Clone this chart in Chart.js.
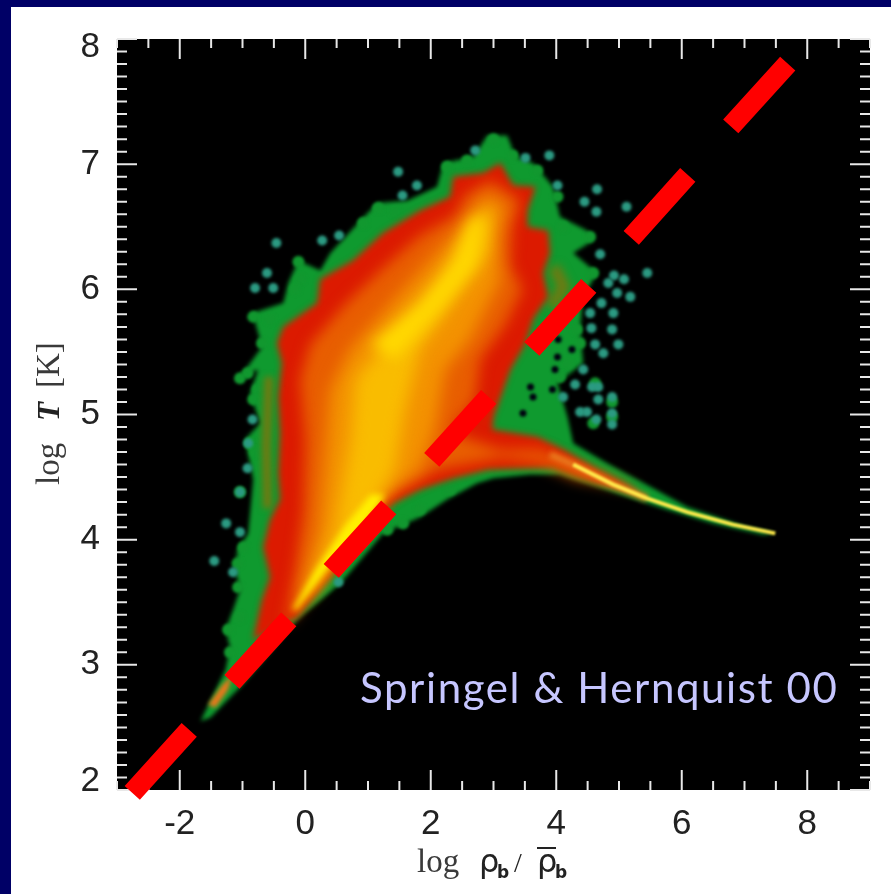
<!DOCTYPE html>
<html>
<head>
<meta charset="utf-8">
<title>log T vs log rho</title>
<script src="https://cdn.jsdelivr.net/npm/chart.js@4"></script>
<style>
    html, body { margin: 0; padding: 0; background: #000066; overflow: hidden; }
    canvas { display: block; }
</style>
</head>
<body>
<canvas id="phase" width="891" height="894"></canvas>
<script>
// tick labels
const xTickLabels = [-2, 0, 2, 4, 6, 8];
const yTickLabels = [2, 3, 4, 5, 6, 7, 8];

// density contours, [log rho, log T]
const greenEdge = [[-1.67,2.55],[-1.27,2.96],[-1.20,3.14],[-1.27,3.28],[-1.15,3.44],[-1.04,3.60],[-1.12,3.76],[-1.08,3.92],[-0.91,4.05],[-0.88,4.21],[-0.83,4.48],[-0.96,4.80],[-0.72,4.93],[-0.88,5.17],[-0.75,5.36],[-1.04,5.30],[-0.69,5.54],[-0.84,5.81],[-0.35,5.89],[-0.27,6.05],[-0.11,6.23],[0.24,6.15],[0.40,6.29],[0.88,6.55],[1.15,6.69],[1.63,6.71],[2.10,6.82],[2.20,7.01],[2.68,7.06],[2.90,7.23],[3.22,7.23],[3.35,7.06],[3.63,7.01],[3.95,6.82],[4.06,6.58],[4.49,6.47],[4.59,6.39],[4.27,6.29],[4.65,6.13],[4.43,5.94],[4.38,5.68],[4.43,5.41],[4.22,5.33],[4.02,5.25],[4.18,4.98],[4.27,4.77],[4.81,4.61],[5.29,4.48],[6.09,4.26],[7.04,4.10],[7.49,4.05],[7.30,4.04],[6.50,4.13],[5.77,4.24],[5.02,4.36],[4.54,4.44],[4.06,4.52],[3.59,4.52],[3.00,4.49],[2.74,4.45],[2.26,4.32],[1.83,4.18],[1.24,4.05],[0.56,3.65],[-0.13,3.36],[-1.04,2.82],[-1.51,2.58]];
const redEdge = [[-0.83,3.20],[-0.69,3.52],[-0.56,3.70],[-0.67,3.94],[-0.56,4.16],[-0.40,4.32],[-0.43,4.53],[-0.40,4.85],[-0.43,5.14],[-0.37,5.41],[-0.45,5.57],[-0.35,5.70],[0.19,5.89],[0.24,6.08],[0.76,6.23],[1.24,6.45],[1.83,6.63],[2.31,6.74],[2.36,6.90],[2.84,6.93],[3.11,7.01],[3.31,6.83],[3.67,6.82],[3.54,6.63],[3.54,6.50],[3.87,6.47],[3.90,6.29],[3.79,6.13],[3.87,5.94],[3.63,5.76],[3.51,5.57],[3.27,5.36],[3.00,4.98],[2.98,4.88],[3.70,4.82],[4.11,4.72],[4.65,4.56],[5.34,4.38],[4.65,4.45],[3.95,4.58],[3.43,4.57],[2.90,4.56],[2.36,4.49],[1.83,4.40],[1.40,4.29],[0.40,3.70],[-0.13,3.38]];
const orangeEdge = [[-0.32,3.32],[-0.16,3.76],[-0.03,4.24],[0.00,4.80],[-0.08,5.28],[0.08,5.56],[0.64,5.88],[1.20,6.15],[1.83,6.43],[2.39,6.59],[2.55,6.75],[2.95,6.87],[3.19,6.79],[3.43,6.71],[3.30,6.51],[3.27,6.19],[3.46,6.00],[3.19,5.72],[2.79,5.44],[2.71,5.12],[2.31,4.86],[3.11,4.72],[3.75,4.72],[4.30,4.60],[5.34,4.40],[4.30,4.49],[3.75,4.61],[3.11,4.65],[2.15,4.56],[1.51,4.40],[1.27,4.32],[0.40,3.76],[-0.13,3.42]];
const amberEdge = [[-0.08,3.48],[0.21,4.08],[0.32,4.72],[0.40,5.20],[0.72,5.52],[1.43,5.92],[1.99,6.23],[2.50,6.51],[2.87,6.75],[3.19,6.67],[3.03,6.39],[3.11,6.08],[2.63,5.60],[2.23,5.36],[2.07,4.88],[1.83,4.56],[1.27,4.36],[0.56,3.92]];
const goldEdge = [[0.00,3.52],[0.48,4.08],[0.72,4.80],[0.80,5.28],[1.51,5.72],[2.15,6.08],[2.63,6.51],[2.95,6.67],[2.95,6.31],[2.39,5.92],[1.83,5.52],[1.59,5.04],[1.43,4.56],[1.12,4.28],[0.56,3.96],[0.16,3.60]];
const yellowCore = [[1.04,5.56],[1.83,5.88],[2.39,6.23],[2.63,6.55],[2.87,6.59],[2.71,6.19],[2.15,5.84],[1.43,5.44]];
const yellowSpike = [[-0.13,3.44],[0.40,3.80],[0.96,4.12],[1.27,4.36],[1.04,4.36],[0.64,4.12],[0.16,3.76],[-0.21,3.44]];
const tailBlob = [[-1.55,2.68],[-1.32,2.84],[-1.16,2.92],[-1.23,2.80],[-1.43,2.66]];
const tailRidge = [[4.27,4.60],[4.91,4.44],[5.45,4.33],[6.09,4.22],[6.82,4.12],[7.49,4.05]];
const tailShoulder = [[3.90,4.68],[4.27,4.60],[4.91,4.44],[5.45,4.33]];
const oliveLeft = [[-0.60,4.25],[-0.62,4.75],[-0.58,5.30]];
const oliveRight = [[3.96,6.18],[4.12,6.02],[3.92,5.86]];

// outlying particles, clumps on the green edge and the gaps between them
const outliers = [[1.48,6.94],[1.78,6.83],[1.55,6.75],[-0.46,6.37],[-0.61,6.13],[-0.80,6.01],[-0.51,6.01],[0.27,6.39],[0.54,6.43],[2.71,7.11],[3.51,7.05],[3.89,7.07],[4.02,6.83],[4.65,6.80],[4.45,6.70],[4.64,6.62],[5.12,6.66],[4.70,6.28],[5.45,6.13],[4.92,6.11],[5.08,6.08],[4.83,6.05],[4.97,5.97],[5.18,5.94],[4.72,5.89],[4.54,5.81],[4.91,5.81],[4.56,5.69],[4.89,5.68],[4.62,5.56],[4.99,5.56],[4.75,5.49],[4.43,5.36],[4.30,5.24],[4.57,5.22],[4.67,5.22],[4.67,5.12],[4.11,5.14],[4.38,5.02],[4.49,5.02],[4.89,5.14],[4.89,5.01],[4.64,4.96],[4.89,4.92],[-0.84,4.96],[-0.91,4.77],[-0.92,4.57],[-1.04,4.38],[-1.26,4.13],[-1.04,4.06],[-1.45,3.83],[-1.15,3.74],[0.53,3.66]];
const greenClumps = [[-0.11,6.22],[-0.08,6.08],[-0.16,6.00],[-0.83,5.78],[-0.56,5.76],[-0.69,5.57],[-0.92,5.33],[-1.04,5.29],[-0.76,5.20],[-0.83,5.12],[-0.88,4.77],[-0.80,4.70],[-1.04,4.38],[0.92,6.53],[1.16,6.65],[1.43,6.62],[2.26,6.98],[2.58,7.03],[3.00,7.20],[3.31,7.07],[3.70,6.95],[4.02,6.74],[4.11,6.50],[4.54,6.42],[4.59,6.13],[4.33,5.68],[4.38,5.57],[4.18,5.41],[4.06,5.30],[4.89,5.10],[4.89,4.98],[4.62,5.25],[4.59,4.93],[1.56,4.13],[1.83,4.24],[1.31,4.08],[2.31,4.40],[-1.04,3.38],[-1.23,3.28],[-1.20,3.10],[-1.07,3.62],[-1.08,3.81],[-0.99,3.94]];
const holes = [[4.02,5.46],[3.98,5.36],[3.59,5.22],[3.63,5.14],[3.94,5.20],[3.47,5.01],[4.03,5.60],[4.25,5.52]];

// the dashed red line
const redLine = [[-2.757,1.978],[-1.849,2.481],[null,null],[-1.168,2.864],[-0.263,3.363],[null,null],[0.414,3.751],[1.331,4.258],[null,null],[2.016,4.637],[2.924,5.141],[null,null],[3.610,5.524],[4.518,6.027],[null,null],[5.195,6.411],[6.096,6.914],[null,null],[6.781,7.301],[7.689,7.804]];

const creditText = "Springel & Hernquist 00";

function xy(list) {
    return list.map(p => ({ x: p[0], y: p[1] }));
}

function contour(list, color, blur) {
    return {
        data: xy(list),
        showLine: true,
        fill: 'shape',
        backgroundColor: color,
        borderWidth: 0,
        pointRadius: 0,
        blur: blur
    };
}

function dots(list, color, radius, blur) {
    return {
        data: xy(list),
        showLine: false,
        backgroundColor: color,
        borderWidth: 0,
        pointRadius: radius,
        blur: blur
    };
}

function ridge(list, color, width, blur) {
    return {
        data: xy(list),
        showLine: true,
        fill: false,
        borderColor: color,
        borderWidth: width,
        pointRadius: 0,
        blur: blur
    };
}

// back to front
let datasets = [
    contour(greenEdge, '#0f9a2f', 2),
    dots(greenClumps, '#11982f', 6, 1.5),
    ridge(oliveLeft, '#6f7a12', 9, 3),
    ridge(oliveRight, '#6f7a12', 12, 4),
    contour(tailBlob, '#e8781c', 2),
    contour(redEdge, '#dc1a00', 3),
    contour(orangeEdge, '#e85e00', 7),
    contour(amberEdge, '#f39200', 8),
    contour(goldEdge, '#f9bc00', 8),
    contour(yellowCore, '#ffd800', 7),
    contour(yellowSpike, '#fff000', 3),
    dots(holes, '#000010', 3.5, 1.5),
    dots(outliers, '#2b9a82', 5, 1.5),
    ridge(tailShoulder, '#e8781c', 7, 2.5),
    ridge(tailRidge, '#ffe84a', 4, 1),
    {
        data: xy(redLine),
        showLine: true,
        spanGaps: false,
        fill: false,
        borderColor: '#ff0000',
        borderWidth: 20.5,
        borderCapStyle: 'butt',
        pointRadius: 0,
        clip: false,
        blur: 0
    }
];
datasets.forEach((d, i) => { d.order = datasets.length - i; });

function isWhole(v) {
    return Math.abs(v - Math.round(v)) < 1e-6;
}

// ticks point inward on all four sides, so they are drawn here from the scales
function drawInwardTicks(chart) {
    const ctx = chart.ctx;
    const area = chart.chartArea;
    const xs = chart.scales.x;
    const ys = chart.scales.y;
    ctx.save();
    ctx.strokeStyle = '#e8e8e8';
    ctx.lineWidth = 2;
    xs.ticks.forEach(t => {
        const px = xs.getPixelForValue(t.value);
        const len = xTickLabels.includes(Math.round(t.value)) && isWhole(t.value) ? 20 : 9;
        ctx.beginPath();
        ctx.moveTo(px, area.bottom); ctx.lineTo(px, area.bottom - len);
        ctx.moveTo(px, area.top); ctx.lineTo(px, area.top + len);
        ctx.stroke();
    });
    ys.ticks.forEach(t => {
        const py = ys.getPixelForValue(t.value);
        const len = isWhole(t.value) ? 20 : 10;
        ctx.beginPath();
        ctx.moveTo(area.left, py); ctx.lineTo(area.left + len, py);
        ctx.moveTo(area.right, py); ctx.lineTo(area.right - len, py);
        ctx.stroke();
    });
    ctx.restore();
}

function drawTitles(ctx) {
    ctx.save();
    ctx.fillStyle = '#3a3a3a';
    ctx.textAlign = 'left';
    ctx.textBaseline = 'alphabetic';

    // x title with subscripts and the bar over the second rho
    ctx.font = '33px "Liberation Serif"';
    ctx.fillText('log', 417, 872);
    ctx.font = '32px "DejaVu Sans"';
    ctx.fillStyle = '#222';
    ctx.fillText('ρ', 479, 872);
    ctx.fillText('ρ', 537, 872);
    ctx.font = 'bold 17px "DejaVu Sans"';
    ctx.fillText('b', 497, 878);
    ctx.fillText('b', 555, 878);
    ctx.font = '28px "Liberation Serif"';
    ctx.fillText('/', 514, 872);
    ctx.fillRect(537, 847, 19, 2);

    // y title
    ctx.save();
    ctx.translate(59, 485);
    ctx.rotate(-Math.PI / 2);
    ctx.fillStyle = '#3a3a3a';
    ctx.font = '33px "Liberation Serif"';
    ctx.fillText('log', 0, 0);
    ctx.fillStyle = '#222';
    ctx.font = 'italic bold 31px "Liberation Serif"';
    ctx.fillText('T', 64, 0);
    ctx.fillStyle = '#3a3a3a';
    ctx.font = '33px "Liberation Serif"';
    ctx.fillText('[K]', 97, 0);
    ctx.restore();

    ctx.restore();
}

const phasePlugin = {
    id: 'phasePlugin',
    beforeDraw(chart) {
        const ctx = chart.ctx;
        const area = chart.chartArea;
        ctx.save();
        ctx.fillStyle = '#ffffff';
        ctx.fillRect(11, 7, chart.width - 11, chart.height - 7);
        ctx.fillStyle = '#000000';
        ctx.fillRect(area.left, area.top, area.right - area.left, area.bottom - area.top);
        ctx.restore();

        // the end labels sit inside the axis range in the original
        chart.scales.y.getLabelItems().forEach(item => {
            if (item.label === '8') item.options.translation[1] += 8;
            if (item.label === '2') item.options.translation[1] -= 9;
        });
    },
    beforeDatasetsDraw(chart) {
        drawInwardTicks(chart);
        chart.ctx.filter = 'blur(' + chart.data.datasets[0].blur + 'px)';
    },
    beforeDatasetDraw(chart, args) {
        chart.ctx.filter = 'blur(' + chart.data.datasets[args.index].blur + 'px)';
    },
    afterDatasetDraw(chart, args) {
        // the filler plugin paints the next contour before our own hook runs
        const next = chart.data.datasets[args.index + 1];
        chart.ctx.filter = next ? 'blur(' + next.blur + 'px)' : 'none';
    },
    afterDatasetsDraw(chart) {
        chart.ctx.filter = 'none';
    },
    afterDraw(chart) {
        const ctx = chart.ctx;
        drawTitles(ctx);
        ctx.save();
        ctx.fillStyle = '#c6c6ff';
        ctx.font = '42px Lato';
        ctx.letterSpacing = '1.6px';
        ctx.textAlign = 'left';
        ctx.fillText(creditText, 360, 703);
        ctx.restore();
    }
};

new Chart(document.getElementById('phase'), {
    type: 'scatter',
    data: { datasets: datasets },
    plugins: [phasePlugin],
    options: {
        responsive: false,
        animation: false,
        layout: { padding: { left: 0, top: 39, right: 21, bottom: 0 } },
        plugins: { legend: { display: false }, tooltip: { enabled: false } },
        scales: {
            x: {
                type: 'linear',
                min: -3,
                max: 9,
                grid: { display: false },
                border: { display: false },
                afterFit(scale) { scale.height = 104; },
                ticks: {
                    stepSize: 0.5,
                    autoSkip: false,
                    maxRotation: 0,
                    padding: 5,
                    color: '#222',
                    font: { family: 'Liberation Sans', size: 35 },
                    callback(v) { return isWhole(v) && xTickLabels.includes(Math.round(v)) ? String(Math.round(v)) : ''; }
                }
            },
            y: {
                type: 'linear',
                min: 2,
                max: 8,
                grid: { display: false },
                border: { display: false },
                afterFit(scale) { scale.width = 117; },
                ticks: {
                    stepSize: 0.1,
                    autoSkip: false,
                    padding: 9,
                    color: '#222',
                    font: { family: 'Liberation Sans', size: 35 },
                    callback(v) { return isWhole(v) && yTickLabels.includes(Math.round(v)) ? String(Math.round(v)) : ''; }
                }
            }
        }
    }
});
</script>
</body>
</html>
